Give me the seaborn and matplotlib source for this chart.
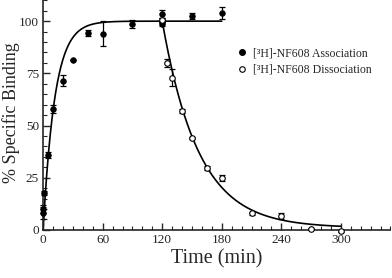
import numpy as np
import pandas as pd
import seaborn as sns
import matplotlib.pyplot as plt
from matplotlib.lines import Line2D
from matplotlib.ticker import MultipleLocator

# Association data (filled circles)
assoc_t = [0, 0, 1, 5, 10, 20, 30, 45, 60, 90, 120, 120, 120, 150, 180]
assoc_y = [8, 10, 17.5, 36, 58, 71.5, 81.5, 94.5, 94, 98.5, 103.5, 100, 98.5, 102.5, 104]
assoc_err = [3, 2, 1, 1.5, 2, 2.5, 0, 1.5, 6, 2, 2, 1, 1, 1.5, 3]

# Dissociation data (open circles)
dissoc_t = [120, 125, 130, 140, 150, 165, 180, 210, 240, 270, 300]
dissoc_y = [100.5, 80, 73, 57, 44, 29.5, 25, 8, 6.5, 0.5, -0.5]
dissoc_err = [1, 2, 4, 1, 0.5, 1, 1.5, 0.8, 1.5, 0.5, 0.5]

# fitted rate constants (min^-1)
k_on = 0.085
k_off = 0.0272

sns.set_style("ticks")
plt.rcParams['font.family'] = ['Liberation Serif', 'DejaVu Serif']
plt.rcParams['xtick.direction'] = 'in'
plt.rcParams['ytick.direction'] = 'in'

fig = plt.figure(figsize=(3.92, 2.78), dpi=100)
ax = fig.add_axes([0.110, 0.173, 0.886, 0.826])

# fit curves
t_on = np.linspace(0, 180, 400)
t_off = np.linspace(120, 300, 400)
fit_on = pd.DataFrame({"t": t_on, "y": 100 * (1 - np.exp(-k_on * t_on))})
fit_off = pd.DataFrame({"t": t_off, "y": 1 + 99 * np.exp(-k_off * (t_off - 120))})
sns.lineplot(data=fit_on, x="t", y="y", color="black", lw=1.2, ax=ax)
sns.lineplot(data=fit_off, x="t", y="y", color="black", lw=1.2, ax=ax)

# error bars
ax.errorbar(assoc_t, assoc_y, yerr=assoc_err, fmt="none", ecolor="black",
            elinewidth=0.9, capsize=2, capthick=0.9, clip_on=False)
ax.errorbar(dissoc_t, dissoc_y, yerr=dissoc_err, fmt="none", ecolor="black",
            elinewidth=0.9, capsize=2, capthick=0.9, clip_on=False)

# points
sns.scatterplot(x=assoc_t, y=assoc_y, color="black", s=16, edgecolor="black",
                linewidth=0.6, zorder=5, clip_on=False, ax=ax)
sns.scatterplot(x=dissoc_t, y=dissoc_y, color="white", s=16, edgecolor="black",
                linewidth=0.8, zorder=5, clip_on=False, ax=ax)

ax.set_xlim(0, 350)
ax.set_ylim(0, 110)
ax.set_xticks([0, 60, 120, 180, 240, 300])
ax.set_yticks([0, 25, 50, 75, 100])
ax.xaxis.set_minor_locator(MultipleLocator(10))
ax.yaxis.set_minor_locator(MultipleLocator(5))
ax.tick_params(which="major", length=5, width=1, labelsize=9.5, pad=3)
ax.tick_params(which="minor", length=3, width=0.8)
sns.despine(ax=ax)
for s in ["left", "bottom"]:
    ax.spines[s].set_linewidth(1.2)

ax.set_xlabel("Time (min)", fontsize=14.5)
ax.set_ylabel("% Specific Binding", fontsize=13)
ax.xaxis.set_label_coords(0.499, -0.085)
ax.yaxis.set_label_coords(-0.066, 0.51)

handles = [
    Line2D([], [], ls="none", marker="o", ms=4, mfc="black", mec="black"),
    Line2D([], [], ls="none", marker="o", ms=4, mfc="white", mec="black", mew=0.8),
]
ax.legend(handles, ["[³H]-NF608 Association", "[³H]-NF608 Dissociation"],
          loc="upper left", bbox_to_anchor=(0.54, 0.82), frameon=False,
          fontsize=8.5, handlelength=1, handletextpad=0.4, borderpad=0,
          labelspacing=0.35)

fig.savefig("out.png", dpi=100)
